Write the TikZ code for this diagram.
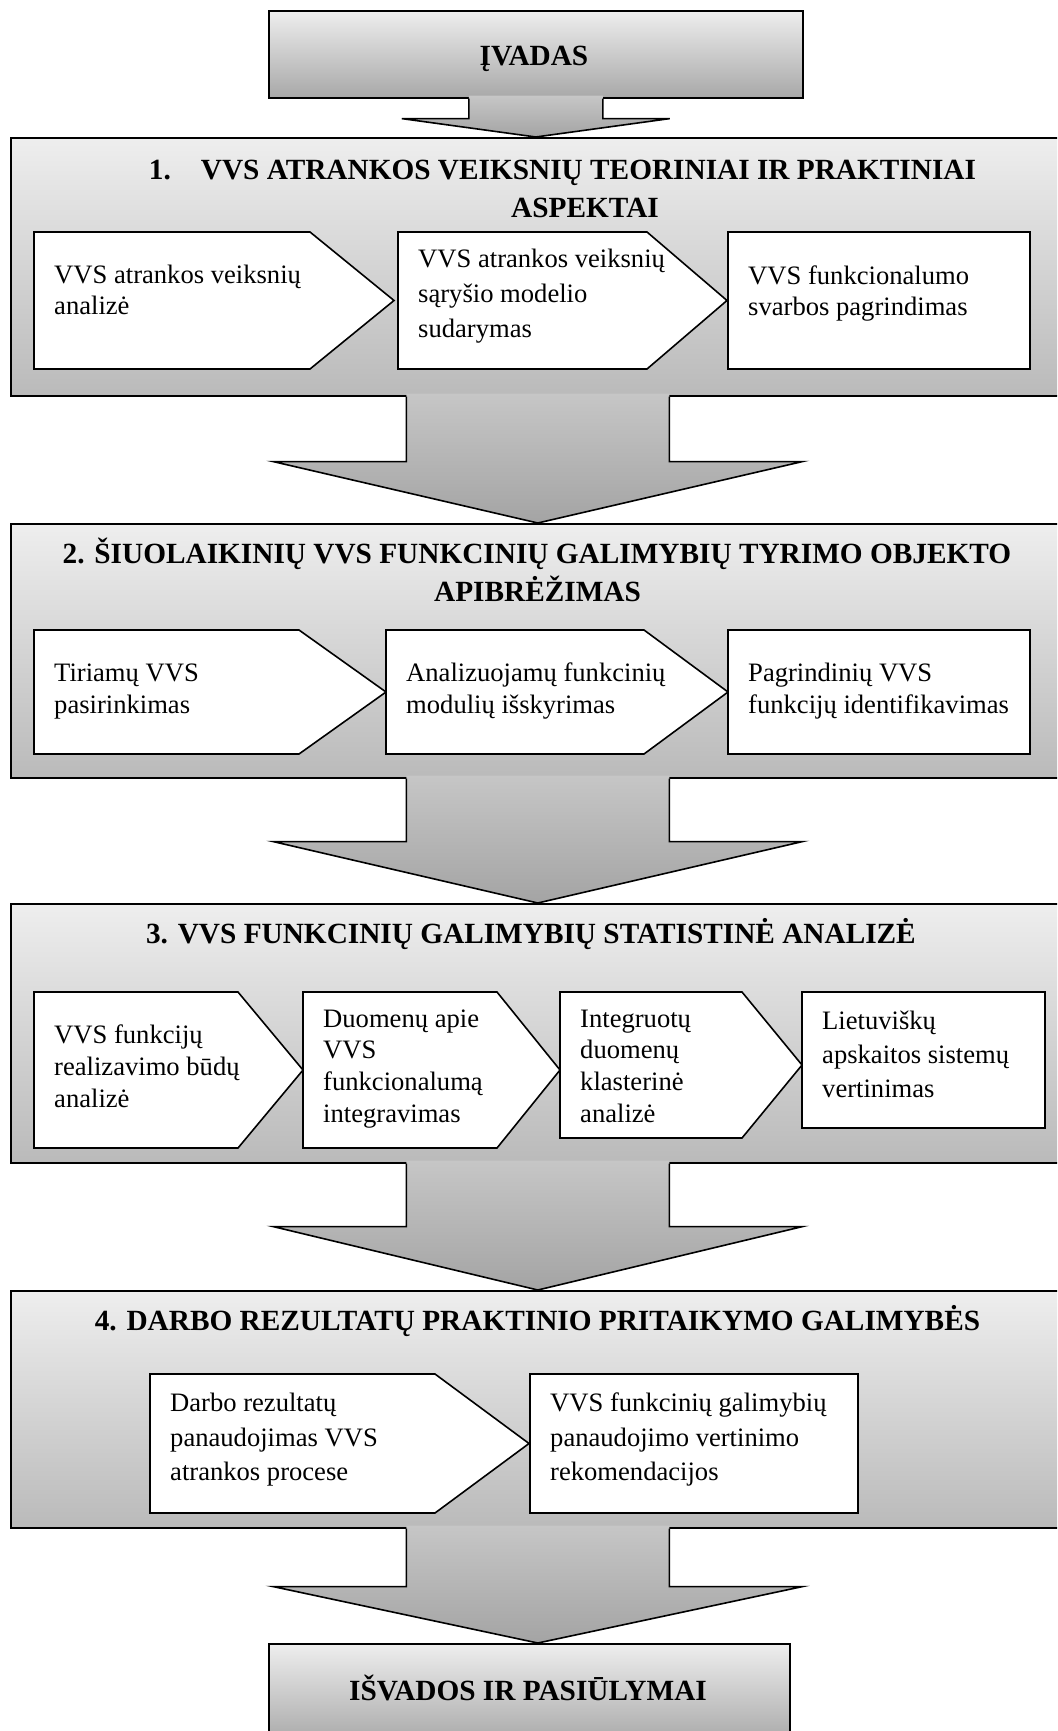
\documentclass[tikz,border=0pt]{standalone}
\usepackage{fontspec}
\setmainfont{Liberation Serif}
\usepackage{xcolor}
\usetikzlibrary{calc}

\definecolor{boxtop}{HTML}{EEEEEE}
\definecolor{boxbot}{HTML}{BABABA}
\definecolor{endbot}{HTML}{A8A8A8}
\definecolor{arrtop}{HTML}{C6C6C6}
\definecolor{arrbot}{HTML}{A4A4A4}

\begin{document}
\begin{tikzpicture}[x=1pt,y=-1pt,
		bigbox/.style={draw, line width=1.6pt, top color=boxtop, bottom color=boxbot, anchor=north west, inner sep=0pt},
		endbox/.style={bigbox, bottom color=endbot},
		inbox/.style={draw, line width=1.6pt, fill=white, line join=miter},
		intext/.style={anchor=west, align=left, inner sep=0pt, font=\fontsize{26.6}{31}\selectfont, execute at begin node=\strut, execute at end node=\strut},
		heading/.style={anchor=base, inner sep=0pt, font=\fontsize{29.3}{35}\selectfont\bfseries},
		arrowshade/.style={top color=arrtop, bottom color=arrbot},
		arrowline/.style={line width=1.6pt, line join=miter}]

		\useasboundingbox (0,0) rectangle (1057,1731);
		\clip (0,0) rectangle (1057,1731);
		\fill[white] (0,0) rectangle (1057,1731);

		% frames
		\node[endbox, minimum width=534pt, minimum height=87pt] (intro) at (268,10) {};
		\node[bigbox, minimum width=1054pt, minimum height=258pt] (s1) at (10,137) {};
		\node[bigbox, minimum width=1054pt, minimum height=254pt] (s2) at (10,523) {};
		\node[bigbox, minimum width=1054pt, minimum height=259pt] (s3) at (10,903) {};
		\node[bigbox, minimum width=1054pt, minimum height=237pt] (s4) at (10,1290) {};
		\node[endbox, minimum width=521pt, minimum height=100pt] (outro) at (268,1643) {};

		\node[heading] (introtxt) at (534,66) {ĮVADAS};
		\node[heading] (outrotxt) at (528,1700) {IŠVADOS IR PASIŪLYMAI};

		% 1
		\node[heading] (t1a) at (562.5,180) {1.\hspace{30pt}VVS ATRANKOS VEIKSNIŲ TEORINIAI IR PRAKTINIAI};
		\node[heading] (t1b) at (585,218) {ASPEKTAI};
		\draw[inbox] (34,232) -- (310,232) -- (394,300.5) -- (310,369) -- (34,369) -- cycle;
		\draw[inbox] (398,232) -- (647,232) -- (727,300.5) -- (647,369) -- (398,369) -- cycle;
		\draw[inbox] (728,232) rectangle (1030,369);
		\node[intext] (b11) at (54,294.8) {VVS atrankos veiksnių\\analizė};
		\node[intext, font=\fontsize{26.6}{35}\selectfont] (b12) at (418,298.5) {VVS atrankos veiksnių\\sąryšio modelio\\sudarymas};
		\node[intext] (b13) at (748,294.8) {VVS funkcionalumo\\svarbos pagrindimas};

		% 2
		\node[heading] (t2a) at (537,563) {2. ŠIUOLAIKINIŲ VVS FUNKCINIŲ GALIMYBIŲ TYRIMO OBJEKTO};
		\node[heading] (t2b) at (537.5,601) {APIBRĖŽIMAS};
		\draw[inbox] (34,630) -- (299,630) -- (386,692) -- (299,754) -- (34,754) -- cycle;
		\draw[inbox] (386,630) -- (644,630) -- (728,692) -- (644,754) -- (386,754) -- cycle;
		\draw[inbox] (728,630) rectangle (1030,754);
		\node[intext, font=\fontsize{26.6}{32}\selectfont] (b21) at (54,693.2) {Tiriamų VVS\\pasirinkimas};
		\node[intext, font=\fontsize{26.6}{32}\selectfont] (b22) at (406,693.2) {Analizuojamų funkcinių\\modulių išskyrimas};
		\node[intext, font=\fontsize{26.6}{32}\selectfont] (b23) at (748,693.2) {Pagrindinių VVS\\funkcijų identifikavimas};

		% 3
		\node[heading] (t3) at (531,943) {3. VVS FUNKCINIŲ GALIMYBIŲ STATISTINĖ ANALIZĖ};
		\draw[inbox] (34,992) -- (238,992) -- (303,1070) -- (238,1148) -- (34,1148) -- cycle;
		\draw[inbox] (303,992) -- (497,992) -- (560,1070) -- (497,1148) -- (303,1148) -- cycle;
		\draw[inbox] (560,992) -- (742,992) -- (802,1065) -- (742,1138) -- (560,1138) -- cycle;
		\draw[inbox] (802,992) rectangle (1045,1128);
		\node[intext, font=\fontsize{26.6}{32}\selectfont] (b31) at (54,1071.4) {VVS funkcijų\\realizavimo būdų\\analizė};
		\node[intext, font=\fontsize{26.6}{31.7}\selectfont] (b32) at (323,1070.7) {Duomenų apie\\VVS\\funkcionalumą\\integravimas};
		\node[intext, font=\fontsize{26.6}{31.7}\selectfont] (b33) at (580,1070.7) {Integruotų\\duomenų\\klasterinė\\analizė};
		\node[intext, font=\fontsize{26.6}{34}\selectfont] (b34) at (822,1059.2) {Lietuviškų\\apskaitos sistemų\\vertinimas};

		% 4
		\node[heading] (t4) at (537.5,1330) {4. DARBO REZULTATŲ PRAKTINIO PRITAIKYMO GALIMYBĖS};
		\draw[inbox] (150,1374) -- (435,1374) -- (529,1443.5) -- (435,1513) -- (150,1513) -- cycle;
		\draw[inbox] (530,1374) rectangle (858,1513);
		\node[intext, font=\fontsize{26.6}{34.5}\selectfont] (b41) at (170,1442) {Darbo rezultatų\\panaudojimas VVS\\atrankos procese};
		\node[intext, font=\fontsize{26.6}{34.5}\selectfont] (b42) at (550,1442) {VVS funkcinių galimybių\\panaudojimo vertinimo\\rekomendacijos};

		% block arrows
		\path[arrowshade] ($(intro.south)+(-67,-3)$) -- ($(intro.south)+(-67,20)$) -- ($(intro.south)+(-134,20)$) -- (intro.south |- s1.north) -- ($(intro.south)+(134,20)$) -- ($(intro.south)+(67,20)$) -- ($(intro.south)+(67,-3)$) -- cycle;
		\draw[arrowline] ($(intro.south)+(-67,0)$) -- ($(intro.south)+(-67,20)$) -- ($(intro.south)+(-134,20)$) -- (intro.south |- s1.north) -- ($(intro.south)+(134,20)$) -- ($(intro.south)+(67,20)$) -- ($(intro.south)+(67,0)$);

		\path[arrowshade] ($(s1.south)+(-131.5,-3)$) -- ($(s1.south)+(-131.5,65)$) -- ($(s1.south)+(-264.5,65)$) -- (s1.south |- s2.north) -- ($(s1.south)+(264.5,65)$) -- ($(s1.south)+(131.5,65)$) -- ($(s1.south)+(131.5,-3)$) -- cycle;
		\draw[arrowline] ($(s1.south)+(-131.5,0)$) -- ($(s1.south)+(-131.5,65)$) -- ($(s1.south)+(-264.5,65)$) -- (s1.south |- s2.north) -- ($(s1.south)+(264.5,65)$) -- ($(s1.south)+(131.5,65)$) -- ($(s1.south)+(131.5,0)$);

		\path[arrowshade] ($(s2.south)+(-131.5,-3)$) -- ($(s2.south)+(-131.5,63)$) -- ($(s2.south)+(-264.5,63)$) -- (s2.south |- s3.north) -- ($(s2.south)+(264.5,63)$) -- ($(s2.south)+(131.5,63)$) -- ($(s2.south)+(131.5,-3)$) -- cycle;
		\draw[arrowline] ($(s2.south)+(-131.5,0)$) -- ($(s2.south)+(-131.5,63)$) -- ($(s2.south)+(-264.5,63)$) -- (s2.south |- s3.north) -- ($(s2.south)+(264.5,63)$) -- ($(s2.south)+(131.5,63)$) -- ($(s2.south)+(131.5,0)$);

		\path[arrowshade] ($(s3.south)+(-131.5,-3)$) -- ($(s3.south)+(-131.5,63)$) -- ($(s3.south)+(-264.5,63)$) -- (s3.south |- s4.north) -- ($(s3.south)+(264.5,63)$) -- ($(s3.south)+(131.5,63)$) -- ($(s3.south)+(131.5,-3)$) -- cycle;
		\draw[arrowline] ($(s3.south)+(-131.5,0)$) -- ($(s3.south)+(-131.5,63)$) -- ($(s3.south)+(-264.5,63)$) -- (s3.south |- s4.north) -- ($(s3.south)+(264.5,63)$) -- ($(s3.south)+(131.5,63)$) -- ($(s3.south)+(131.5,0)$);

		\path[arrowshade] ($(s4.south)+(-131.5,-3)$) -- ($(s4.south)+(-131.5,58)$) -- ($(s4.south)+(-264.5,58)$) -- (s4.south |- outro.north) -- ($(s4.south)+(264.5,58)$) -- ($(s4.south)+(131.5,58)$) -- ($(s4.south)+(131.5,-3)$) -- cycle;
		\draw[arrowline] ($(s4.south)+(-131.5,0)$) -- ($(s4.south)+(-131.5,58)$) -- ($(s4.south)+(-264.5,58)$) -- (s4.south |- outro.north) -- ($(s4.south)+(264.5,58)$) -- ($(s4.south)+(131.5,58)$) -- ($(s4.south)+(131.5,0)$);
	\end{tikzpicture}
\end{document}
